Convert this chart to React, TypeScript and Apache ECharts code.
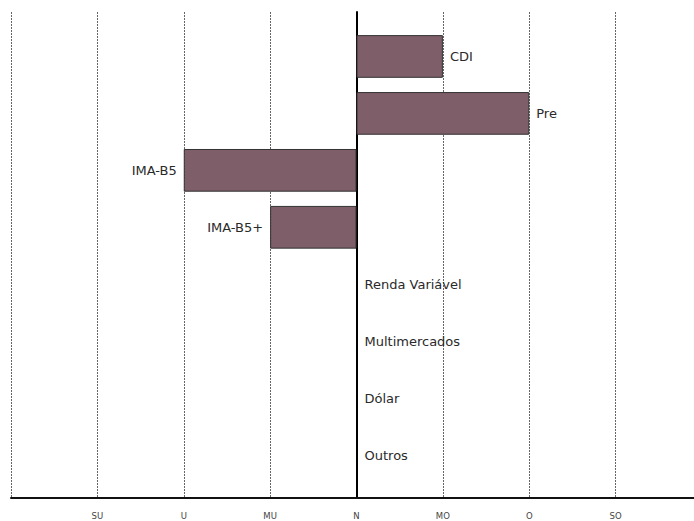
import React, { useEffect, useRef } from "react";
import * as echarts from "echarts";

// Asset classes, top to bottom
const categories = [
  "CDI",
  "Pre",
  "IMA-B5",
  "IMA-B5+",
  "Renda Variável",
  "Multimercados",
  "Dólar",
  "Outros",
];

// Positioning score per asset class (-3 = SU ... +3 = SO)
const scores = [1, 2, -2, -1, 0, 0, 0, 0];

// Scale labels for the positioning scores
const scaleTicks = [-4, -3, -2, -1, 0, 1, 2, 3, 4];
const scaleLabels = ["", "SU", "U", "MU", "N", "MO", "O", "SO", ""];

const FONT = "'DejaVu Sans', sans-serif";

export default function App() {
  const ref = useRef<HTMLDivElement>(null);

  useEffect(() => {
    if (!ref.current) return;
    const chart = echarts.init(ref.current, undefined, { renderer: "svg" });

    const labelFor = (v: number) => {
      const i = scaleTicks.indexOf(v);
      return i >= 0 ? scaleLabels[i] : "";
    };

    chart.setOption({
      animation: false,
      backgroundColor: "#ffffff",
      grid: [
        { left: 11, right: 8, top: 12, bottom: 23 },
        { left: 11, right: 8, top: 28, bottom: 37.5 },
      ],
      xAxis: [
        {
          gridIndex: 0,
          type: "value",
          min: -4,
          max: 4,
          interval: 1,
          axisLine: { show: true, onZero: false, lineStyle: { color: "#111", width: 2 } },
          axisTick: { show: false },
          axisLabel: {
            margin: 13,
            fontFamily: FONT,
            fontSize: 8.5,
            color: "#444",
            formatter: (v: number) => labelFor(v),
          },
          splitLine: {
            show: true,
            lineStyle: { color: "#666", width: 1, type: [2, 1] },
          },
        },
        {
          gridIndex: 1,
          type: "value",
          min: -4,
          max: 4,
          interval: 1,
          show: false,
        },
      ],
      yAxis: [
        {
          gridIndex: 0,
          type: "value",
          min: 0,
          max: 1,
          axisLine: { show: true, onZero: true, lineStyle: { color: "#000", width: 2 } },
          axisTick: { show: false },
          axisLabel: { show: false },
          splitLine: { show: false },
        },
        {
          gridIndex: 1,
          type: "category",
          inverse: true,
          data: categories,
          show: false,
        },
      ],
      series: [
        {
          type: "bar",
          xAxisIndex: 1,
          yAxisIndex: 1,
          barWidth: "75%",
          itemStyle: { color: "#7e5e68", borderColor: "#333", borderWidth: 1 },
          data: scores.map((v) => ({
            value: v,
            itemStyle: v === 0 ? { borderWidth: 0 } : undefined,
            label: {
              show: true,
              position: v < 0 ? "left" : "right",
              distance: v === 0 ? 8 : 7,
              formatter: "{b}",
              fontFamily: FONT,
              fontSize: 13,
              color: "#2a2a2a",
            },
          })),
        },
      ],
    });

    return () => chart.dispose();
  }, []);

  return (
    <div
      style={{
        position: "absolute",
        left: 0,
        top: 0,
        width: 694,
        height: 521,
        overflow: "hidden",
      }}
    >
      <div ref={ref} style={{ width: 710, height: 521 }} />
    </div>
  );
}
